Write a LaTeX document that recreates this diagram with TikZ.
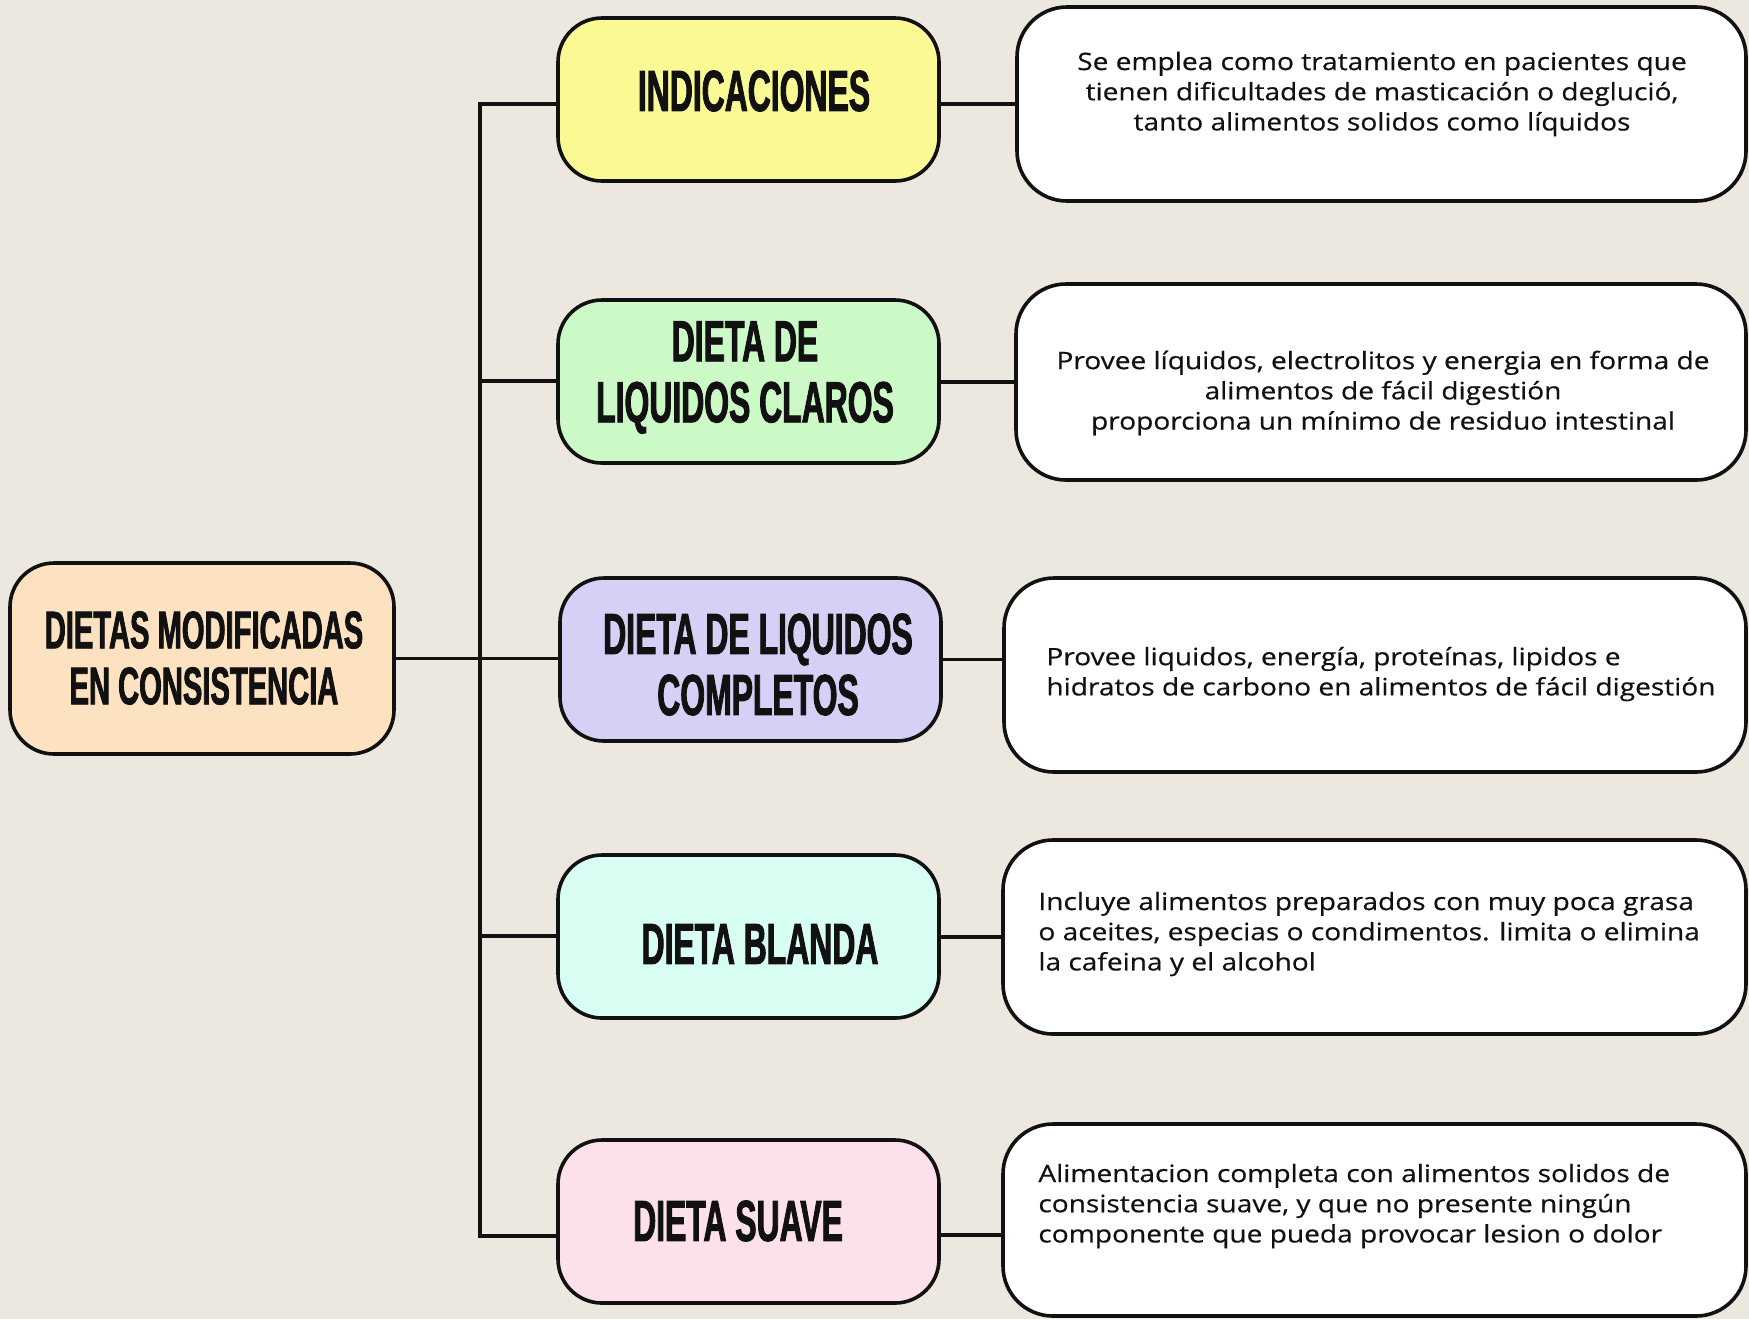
\documentclass[tikz,border=0pt]{standalone}
\usepackage{fontspec}
\newfontfamily\descfont[FakeStretch=1.17,FakeBold=0.5]{Open Sans}
\newfontfamily\headfont[FakeStretch=0.55,FakeBold=1.5]{Liberation Sans}
\definecolor{bgc}{HTML}{EDE8DF}
\definecolor{cpeach}{HTML}{FDE2C2}
\definecolor{cyellow}{HTML}{FBF994}
\definecolor{cgreen}{HTML}{CCFAC6}
\definecolor{clav}{HTML}{D6D0F6}
\definecolor{cmint}{HTML}{D8FEF4}
\definecolor{cpink}{HTML}{FDE1EA}
\definecolor{ink}{HTML}{111111}
\tikzset{
  box/.style={draw=ink, line width=1.8pt, rounded corners=22pt, inner sep=0pt},
  midbox/.style={box, minimum width=190.5pt, minimum height=81.5pt},
  descbox/.style={box, fill=white, rounded corners=25pt, minimum height=97pt},
  conn/.style={draw=ink, line width=1.6pt},
  head/.style={font=\headfont\bfseries\fontsize{29}{30.5}\selectfont, text=ink, align=center, inner sep=0pt},
  mainhead/.style={head, font=\headfont\bfseries\fontsize{26.5}{28}\selectfont},
  desc/.style={font=\descfont\fontsize{12}{15.1}\selectfont, text=ink, inner sep=0pt}
}
\begin{document}
\begin{tikzpicture}[x=0.5pt, y=-0.5pt]
\fill[bgc] (0,0) rectangle (1749,1319);
\useasboundingbox (0,0) rectangle (1749,1319);

% main box
\node[box, fill=cpeach, minimum width=192pt, minimum height=95.5pt] (main) at (202,658.5) {};
\node[mainhead] (tmain) at (204,658) {DIETAS MODIFICADAS\\EN CONSISTENCIA};

% middle boxes
\node[midbox, fill=cyellow] (ind) at (748.5,99.5) {};
\node[head] (tind) at (754,91) {INDICACIONES};
\node[midbox, fill=cgreen] (cla) at (748.5,381.5) {};
\node[head] (tcla) at (745,377.5) {DIETA DE\\LIQUIDOS CLAROS};
\node[midbox, fill=clav] (com) at (750.5,659.5) {};
\node[head] (tcom) at (758,664.5) {DIETA DE LIQUIDOS\\COMPLETOS};
\node[midbox, fill=cmint] (bla) at (748.5,936.5) {};
\node[head] (tbla) at (760,944) {DIETA BLANDA};
\node[midbox, fill=cpink] (sua) at (748.5,1221.5) {};
\node[head] (tsua) at (738,1221) {DIETA SUAVE};

% description boxes
\node[descbox, minimum width=364.5pt] (r1) at (1381.5,104) {};
\node[desc, align=center] (d1) at (1382,94) {Se emplea como tratamiento en pacientes que\\tienen dificultades de masticación o degluci\'o,\\tanto alimentos solidos como líquidos};
\node[descbox, minimum width=365pt, minimum height=98pt] (r2) at (1381,382) {};
\node[desc, align=center] (d2) at (1383,393) {Provee líquidos, electrolitos y energia en forma de\\alimentos de fácil digestión\\proporciona un mínimo de residuo intestinal};
\node[descbox, minimum width=371pt] (r3) at (1375,675) {};
\node[desc, align=left, anchor=west] (d3) at (1046,674) {Provee liquidos, energía, proteínas, lipidos e\\hidratos de carbono en alimentos de fácil digestión};
\node[descbox, minimum width=371.5pt] (r4) at (1374.5,937) {};
\node[desc, align=left, anchor=west] (d4) at (1038,934) {Incluye alimentos preparados con muy poca grasa\\o aceites, especias o condimentos. limita o elimina\\la cafeina y el alcohol};
\node[descbox, minimum width=371.5pt, minimum height=96pt] (r5) at (1374.5,1220) {};
\node[desc, align=left, anchor=west] (d5) at (1038,1206) {Alimentacion completa con alimentos solidos de\\consistencia suave, y que no presente ningún\\componente que pueda provocar lesion o dolor};

% connectors
\coordinate (tt) at (480,104);
\coordinate (tb) at (480,1236);
\coordinate (j2) at (480,381);
\coordinate (j4) at (480,936);
\draw[conn] (tt -| ind.west) -- (tt) -- (tb) -- (tb -| sua.west);
\draw[conn] (j2) -- (j2 -| cla.west);
\draw[conn] (j4) -- (j4 -| bla.west);
\draw[conn] (main.east) -- (main.east -| com.west);

\draw[conn] (ind.east |- r1.west) -- (r1.west);
\draw[conn] (cla.east |- r2.west) -- (r2.west);
\draw[conn] (com.east |- com.center) -- (com.center -| r3.west);
\draw[conn] (bla.east |- r4.west) -- (r4.west);
\coordinate (j5) at (940,1235);
\draw[conn] (j5 -| sua.east) -- (j5 -| r5.west);
\end{tikzpicture}
\end{document}
